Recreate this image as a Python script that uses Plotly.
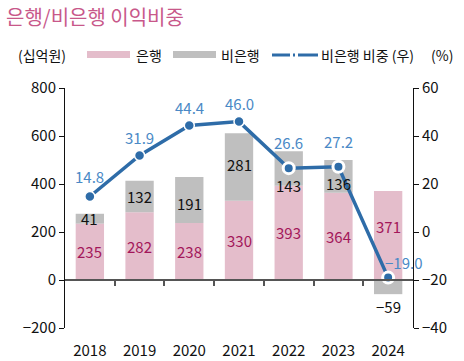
import plotly.graph_objects as go

years = ["2018", "2019", "2020", "2021", "2022", "2023", "2024"]
bank = [235, 282, 238, 330, 393, 364, 371]
nonbank = [41, 132, 191, 281, 143, 136, -59]
share = [14.8, 31.9, 44.4, 46.0, 26.6, 27.2, -19.0]
share_text = ["14.8", "31.9", "44.4", "46.0", "26.6", "27.2", "\u221219.0"]

# label offsets (pixels)
bank_shift = [0, 0, 0, 0, 0, 0, 9]
nb_shift = [0, 0, -4, 3, -17, -7, -12]
share_xshift = [0, 0, 0, 0, 0, 0, 15]
share_yshift = [20, 18, 18, 18, 26, 25, 15]

PINK = "#E4BDCB"
GRAY = "#BFBFBF"
BLUE = "#2E6CA8"
LBLUE = "#4A89C6"
MAG = "#A3175A"
FONT = "Noto Sans CJK KR"

x = list(range(len(years)))

fig = go.Figure()
fig.add_bar(x=x, y=bank, marker=dict(color=PINK, line=dict(width=0)), width=0.57, yaxis="y")
fig.add_bar(x=x, y=nonbank, marker=dict(color=GRAY, line=dict(width=0)), width=0.57, yaxis="y")
fig.add_scatter(x=x, y=share, yaxis="y2", mode="lines", line=dict(color=BLUE, width=3.5))
fig.add_scatter(x=x[:4], y=share[:4], yaxis="y2", mode="markers",
                marker=dict(color=BLUE, size=10, line=dict(color="white", width=1.5)))
fig.add_scatter(x=x[4:], y=share[4:], yaxis="y2", mode="markers",
                marker=dict(color=BLUE, size=11, line=dict(color="white", width=3)))

ann = []
for i in x:
    ann.append(dict(x=i, y=bank[i] / 2, xref="x", yref="y", text=str(bank[i]), showarrow=False,
                    yshift=bank_shift[i], font=dict(color=MAG, size=15, family=FONT)))
    if nonbank[i] >= 0:
        yy = bank[i] + nonbank[i] / 2
        txt = str(nonbank[i])
    else:
        yy = nonbank[i]
        txt = "\u2212" + str(-nonbank[i])
    ann.append(dict(x=i, y=yy, xref="x", yref="y", text=txt, showarrow=False,
                    yshift=nb_shift[i], font=dict(color="#111", size=15, family=FONT)))
    ann.append(dict(x=i, y=share[i], xref="x", yref="y2", text=share_text[i], showarrow=False,
                    xshift=share_xshift[i], yshift=share_yshift[i],
                    font=dict(color=LBLUE, size=15, family=FONT)))

L, R, T, B = 65, 413, 88, 328


def px(xp):
    return (xp - L) / (R - L)


def py(yp):
    return (B - yp) / (B - T)


ann.append(dict(x=px(4), y=py(17), xref="paper", yref="paper", text="은행/비은행 이익비중",
                showarrow=False, xanchor="left", yanchor="middle",
                font=dict(color="#C8588A", size=20, family=FONT)))
leg_y = py(55)
for xp, txt in [(16, "(십억원)"), (134, "은행"), (219, "비은행"), (319, "비은행 비중 (우)"), (429, "(%)")]:
    ann.append(dict(x=px(xp), y=leg_y, xref="paper", yref="paper", text=txt, showarrow=False,
                    xanchor="left", yanchor="middle", font=dict(color="#111", size=14, family=FONT)))

shapes = [
    dict(type="rect", xref="paper", yref="paper", x0=px(87), x1=px(130), y0=py(58), y1=py(51),
         fillcolor=PINK, line=dict(width=0)),
    dict(type="rect", xref="paper", yref="paper", x0=px(173), x1=px(216), y0=py(58), y1=py(51),
         fillcolor=GRAY, line=dict(width=0)),
    dict(type="line", xref="paper", yref="paper", x0=px(272), x1=px(290), y0=leg_y, y1=leg_y,
         line=dict(color=BLUE, width=3)),
    dict(type="line", xref="paper", yref="paper", x0=px(293), x1=px(295), y0=leg_y, y1=leg_y,
         line=dict(color=BLUE, width=3)),
    dict(type="line", xref="paper", yref="paper", x0=px(298), x1=px(318), y0=leg_y, y1=leg_y,
         line=dict(color=BLUE, width=3)),
]

tickfont = dict(color="#111", size=15, family=FONT)
fig.update_layout(
    width=464, height=361,
    margin=dict(l=L, r=464 - R, t=T, b=361 - B, autoexpand=False),
    paper_bgcolor="white", plot_bgcolor="white",
    barmode="relative", showlegend=False,
    annotations=ann, shapes=shapes,
    font=dict(family=FONT),
    xaxis=dict(range=[-0.5, 6.5], tickvals=[0.5, 1.5, 2.5, 3.5, 4.5, 5.5], ticks="outside",
               ticklen=5, tickcolor="#555", tickwidth=1.5, showticklabels=False, showline=True,
               linecolor="#555", linewidth=1.5, anchor="free", position=0.2, showgrid=False,
               zeroline=False, automargin=False),
    xaxis2=dict(range=[-0.5, 6.5], overlaying="x", anchor="y", side="bottom", tickvals=x,
                ticktext=years, ticks="outside", ticklen=9, tickcolor="rgba(0,0,0,0)",
                showline=False, showgrid=False, zeroline=False, tickfont=tickfont,
                automargin=False),
    yaxis=dict(range=[-200, 800], dtick=200, ticks="outside", ticklen=5, tickcolor="#111",
               showline=True, linecolor="#111", linewidth=1, showgrid=False, zeroline=False,
               tickfont=tickfont, automargin=False),
    yaxis2=dict(range=[-40, 60], dtick=20, overlaying="y", side="right", ticks="outside",
                ticklen=5, tickcolor="#111", showline=True, linecolor="#111", linewidth=1,
                showgrid=False, zeroline=False, tickfont=tickfont, automargin=False),
)
# dummy trace so xaxis2 renders
fig.add_scatter(x=[0], y=[0], xaxis="x2", mode="markers", marker=dict(opacity=0), hoverinfo="skip")

fig.write_html("out.html", config={"displayModeBar": False},
               post_script="document.body.style.margin='0';")
